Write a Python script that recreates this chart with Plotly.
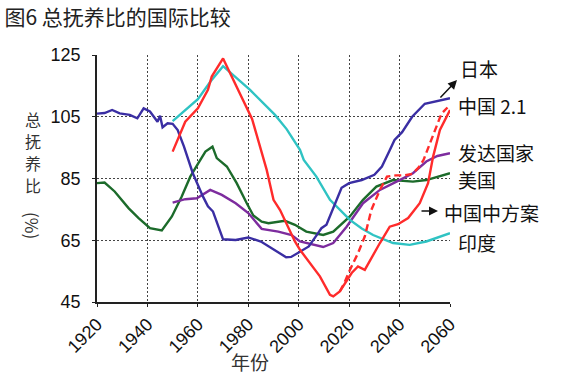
import plotly.graph_objects as go

# ---- data ----
japan_years = [1920, 1923, 1926, 1929, 1933, 1936, 1938.5, 1941, 1944, 1945, 1946, 1948, 1950, 1952, 1954.5,
               1958, 1962, 1964, 1966, 1968, 1970, 1975, 1980, 1985, 1990, 1995, 1997, 2000, 2004, 2007,
               2009, 2011, 2014, 2017, 2020, 2025, 2030, 2033, 2036, 2038, 2041, 2045, 2050, 2055, 2060]
japan_vals = [106, 106.2, 107.2, 106.1, 105.6, 104.5, 107.7, 106.7, 103.4, 105.3, 101.6, 102.9, 102.7, 100.7, 95.3,
              86.7, 79.2, 76, 74.3, 69.5, 65.3, 65.1, 65.9, 64.6, 62, 59.5, 59.6, 61, 63, 66.5,
              68.9, 70, 76, 82, 83.5, 84.5, 86.2, 88.9, 94, 97.5, 100, 105, 109.2, 110.2, 111]

china_years = [1950, 1955, 1960, 1964, 1965.5, 1970, 1981.5, 1987.3, 1990, 1992.6, 1998.5, 2000.5, 2008.4,
               2012.4, 2013.7, 2016.3, 2021, 2023.5, 2026.2, 2029.5, 2032.2, 2036.1, 2039.4, 2043.4, 2048,
               2051.3, 2053.3, 2056, 2060]
china_vals = [93.7, 103.4, 107.7, 113.7, 118, 123.9, 104.3, 87.8, 78.1, 74.8, 64.6, 61.9, 53.3,
              47.3, 46.8, 48.4, 54.4, 56.5, 55.4, 60.3, 64.1, 69.4, 70.2, 72.2, 77,
              83.5, 92.1, 100.7, 107.2]

china_mid_years = [2016.3, 2018, 2020.3, 2023.5, 2026.2, 2028.8, 2032.2, 2035, 2038.5, 2042, 2045, 2047.5,
                   2049.5, 2051, 2054, 2056.6, 2059]
china_mid_vals = [48.4, 51, 55.4, 60.8, 66.2, 74.8, 81.3, 85.6, 86, 86, 86.5, 88.5,
                  91, 94.3, 100.7, 106, 108]

india_years = [1950, 1960, 1965, 1970, 1980.7, 1990.6, 1995.2, 2000.5, 2002, 2007, 2012.4, 2020.3, 2025,
               2029.5, 2037.4, 2044, 2050.6, 2055, 2060]
india_vals = [103.6, 110.7, 116.4, 121.4, 113.7, 105.6, 101, 94.3, 91, 85.6, 78.1, 71.6, 68.8,
              66.7, 64.1, 63.5, 64.6, 65.8, 67.3]

us_years = [1920, 1923, 1927, 1932.5, 1936.5, 1941, 1945.7, 1949.7, 1953.6, 1957, 1960.2, 1963, 1965.8,
            1967.5, 1971.5, 1975.4, 1979.4, 1982, 1985.3, 1988, 1994.5, 1998.5, 2003, 2009.7, 2013.7,
            2020.3, 2025.5, 2030.8, 2037.4, 2045.3, 2050.6, 2060]
us_vals = [83.5, 83.7, 80.8, 75.4, 72.2, 68.9, 68.2, 72.7, 79.2, 85.6, 90, 93.7, 95.3,
           91.6, 88.9, 83.5, 77, 73, 71, 70.5, 71.3, 70, 67.8, 66.7, 67.8,
           72.7, 78.1, 82.4, 84.5, 84, 84.5, 86.7]

dev_years = [1950, 1955, 1959.6, 1964.9, 1969.5, 1975, 1980, 1985.3, 1991.9, 1997.2, 2000.5, 2009.7, 2013.7,
             2019, 2025.5, 2032.2, 2038.8, 2045.3, 2050.6, 2055, 2060]
dev_vals = [77.2, 78.3, 78.6, 81.3, 79.7, 77, 73.8, 68.7, 67.8, 66.7, 64.6, 62.8, 64.1,
            69.4, 77, 81.3, 84, 86.7, 90.5, 92.3, 93.2]

x_ticks = [1920, 1940, 1960, 1980, 2000, 2020, 2040, 2060]
y_ticks = [45, 65, 85, 105, 125]

COL_JP = "#3A2EA3"
COL_CN = "#FF2B2B"
COL_IN = "#2FC3C3"
COL_US = "#1C6B2B"
COL_DEV = "#7D2C9E"

CJK = "Noto Sans CJK SC"
LAT = "Liberation Sans, Arial"

fig = go.Figure()
lw = 2.4
fig.add_trace(go.Scatter(x=us_years, y=us_vals, mode="lines", line=dict(color=COL_US, width=lw), name="美国"))
fig.add_trace(go.Scatter(x=dev_years, y=dev_vals, mode="lines", line=dict(color=COL_DEV, width=lw), name="发达国家"))
fig.add_trace(go.Scatter(x=india_years, y=india_vals, mode="lines", line=dict(color=COL_IN, width=lw), name="印度"))
fig.add_trace(go.Scatter(x=japan_years, y=japan_vals, mode="lines", line=dict(color=COL_JP, width=lw), name="日本"))
fig.add_trace(go.Scatter(x=china_mid_years, y=china_mid_vals, mode="lines",
                         line=dict(color=COL_CN, width=lw, dash="7px,4px"), name="中国中方案"))
fig.add_trace(go.Scatter(x=china_years, y=china_vals, mode="lines", line=dict(color=COL_CN, width=lw), name="中国 2.1"))

W, H = 563, 378
L, R, T, B = 97, 113, 55, 76
pw, ph = W - L - R, H - T - B


def px(xp):
    return (xp - L) / pw


def py(yp):
    return (H - B - yp) / ph


fig.update_layout(
    width=W, height=H,
    margin=dict(l=L, r=R, t=T, b=B, autoexpand=False),
    paper_bgcolor="white", plot_bgcolor="white",
    showlegend=False,
    title=dict(text="图6 总抚养比的国际比较", font=dict(family=CJK, size=21, color="#222"),
               xref="container", yref="container", x=0.008, xanchor="left", y=1 - 18 / H, yanchor="middle"),
)
fig.update_xaxes(range=[1920, 2060], tickvals=x_ticks, tickangle=-45, automargin=False,
                 showgrid=True, gridcolor="#444", griddash="2px,2px", gridwidth=1,
                 showline=True, linecolor="#222", linewidth=1.5,
                 ticks="outside", ticklen=3, tickcolor="#222",
                 tickfont=dict(family=LAT, size=18, color="#111"), zeroline=False)
fig.update_yaxes(range=[45, 125], tickvals=y_ticks, automargin=False,
                 showgrid=True, gridcolor="#444", griddash="2px,2px", gridwidth=1,
                 showline=True, linecolor="#222", linewidth=1.5,
                 ticks="outside", ticklen=3, tickcolor="#222", ticklabelstandoff=8,
                 tickfont=dict(family=LAT, size=18, color="#111"), zeroline=False)

ann = []
# axis titles
ann.append(dict(text="年份", x=px(250), y=py(361), xref="paper", yref="paper", showarrow=False,
                font=dict(family=CJK, size=19, color="#333"), xanchor="center", yanchor="middle"))
for ch, yy in zip(["总", "抚", "养", "比"], [119, 141, 163, 185]):
    ann.append(dict(text=ch, x=px(33), y=py(yy), xref="paper", yref="paper", showarrow=False,
                    font=dict(family=CJK, size=16, color="#333"), xanchor="center", yanchor="middle"))
ann.append(dict(text="(%)", x=px(33), y=py(225), xref="paper", yref="paper", showarrow=False, textangle=90,
                font=dict(family=CJK, size=17, color="#333"), xanchor="center", yanchor="middle"))

labels = [("日本", 458, 68), ("中国 2.1", 456, 105), ("发达国家", 456, 152), ("美国", 456, 179),
          ("中国中方案", 442, 212), ("印度", 456, 242)]
for txt, xx, yy in labels:
    ann.append(dict(text=txt, x=px(xx), y=py(yy), xref="paper", yref="paper", showarrow=False,
                    xanchor="left", yanchor="middle", font=dict(family=CJK, size=19, color="#111")))

# arrows
ann.append(dict(text="", x=px(457), y=py(80), xref="paper", yref="paper", showarrow=True,
                ax=-18, ay=19, arrowhead=2, arrowsize=1.2, arrowwidth=1.5, arrowcolor="#111"))
ann.append(dict(text="", x=px(438), y=py(211), xref="paper", yref="paper", showarrow=True,
                ax=-18, ay=0, arrowhead=2, arrowsize=1.2, arrowwidth=1.5, arrowcolor="#111"))
fig.update_layout(annotations=ann)

fig.write_html("out.html", config={"displayModeBar": False},
               post_script="document.body.style.margin='0';")
